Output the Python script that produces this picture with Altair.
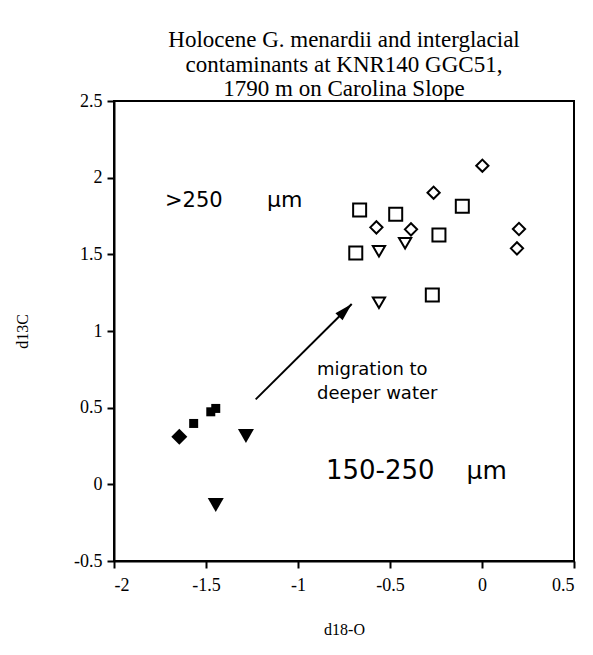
import altair as alt
import pandas as pd

# ---- data ----
open_square_x = [-0.665, -0.469, -0.107, -0.686, -0.234, -0.270]
open_square_y = [1.789, 1.761, 1.813, 1.508, 1.626, 1.235]
open_diamond_x = [0.002, -0.263, -0.574, -0.386, 0.201, 0.190]
open_diamond_y = [2.078, 1.902, 1.676, 1.663, 1.665, 1.539]
open_triangle_x = [-0.560, -0.418, -0.560]
open_triangle_y = [1.520, 1.572, 1.184]
filled_diamond_x = [-1.645]
filled_diamond_y = [0.310]
filled_square_x = [-1.567, -1.474, -1.447]
filled_square_y = [0.397, 0.473, 0.495]
filled_triangle_x = [-1.283, -1.447]
filled_triangle_y = [0.315, -0.135]

arrow_start = [-1.230, 0.554]
arrow_tip = [-0.708, 1.176]

label_texts = [">250", "\u00b5m", "migration to", "deeper water", "150-250", "\u00b5m"]
label_x = [-1.723, -1.168, -0.897, -0.897, -0.848, -0.084]
label_y = [1.810, 1.810, 0.714, 0.555, 0.036, 0.036]
label_size = [21, 22, 18, 18, 26, 25]

title_lines = ["Holocene G. menardii and interglacial",
               "contaminants at KNR140 GGC51,",
               "1790 m on Carolina Slope"]
x_ticks = [-2, -1.5, -1, -0.5, 0, 0.5]
y_ticks = [-0.5, 0, 0.5, 1, 1.5, 2, 2.5]

# marker styles per group: (shape, fill, size, strokeWidth)
styles = [
    ("square", "white", 169, 2),
    ("diamond", "white", 150, 2),
    ("triangle-down", "white", 150, 2),
    ("diamond", "black", 256, 0),
    ("square", "black", 81, 0),
    ("triangle-down", "black", 256, 0),
]
series = [
    (open_square_x, open_square_y),
    (open_diamond_x, open_diamond_y),
    (open_triangle_x, open_triangle_y),
    (filled_diamond_x, filled_diamond_y),
    (filled_square_x, filled_square_y),
    (filled_triangle_x, filled_triangle_y),
]

xs = alt.Scale(domain=[-2, 0.5], nice=False, zero=False)
ys = alt.Scale(domain=[-0.5, 2.5], nice=False, zero=False)
xtitle = "d18-O"
ytitle = "d13C"

x_axis = alt.Axis(values=x_ticks, labelExpr="'' + datum.value", titlePadding=27, labelPadding=8)
y_axis = alt.Axis(values=y_ticks, labelExpr="'' + datum.value", titlePadding=43, labelPadding=5)


def xy(first=False):
    if first:
        return dict(x=alt.X("x:Q", scale=xs, axis=x_axis, title=xtitle),
                    y=alt.Y("y:Q", scale=ys, axis=y_axis, title=ytitle))
    return dict(x=alt.X("x:Q", scale=xs, title=xtitle),
                y=alt.Y("y:Q", scale=ys, title=ytitle))


layers = []
for i, ((sx, sy), (shape, fill, size, sw)) in enumerate(zip(series, styles)):
    df = pd.DataFrame({"x": sx, "y": sy})
    layers.append(
        alt.Chart(df).mark_point(
            shape=shape, fill=fill, stroke="black", strokeWidth=sw,
            size=size, opacity=1, fillOpacity=1, filled=False,
        ).encode(**xy(i == 0))
    )

arrow_df = pd.DataFrame([{"x": arrow_start[0], "y": arrow_start[1],
                          "x2": arrow_tip[0], "y2": arrow_tip[1]}])
tip_df = pd.DataFrame([{"x": arrow_tip[0], "y": arrow_tip[1]}])
labels_df = pd.DataFrame({"x": label_x, "y": label_y, "t": label_texts, "fs": label_size})

arrow = alt.Chart(arrow_df).mark_rule(color="black", strokeWidth=2).encode(
    x2="x2:Q", y2="y2:Q", **xy()
)

head = alt.Chart(tip_df).mark_point(
    shape="M0,0L-0.28,1L0.28,1Z", filled=True, color="black",
    opacity=1, size=1296, angle=45, strokeWidth=0,
).encode(**xy())

texts = alt.Chart(labels_df).mark_text(
    align="left", baseline="alphabetic", font="DejaVu Sans", color="black"
).encode(
    text="t:N",
    size=alt.Size("fs:Q", scale=None),
    **xy(),
)

chart = alt.layer(*layers, arrow, head, texts).properties(
    width=460,
    height=460,
    autosize=alt.AutoSizeParams(type="none"),
    padding={"left": 106, "top": 93, "right": 11, "bottom": 86},
    title=alt.TitleParams(
        text=title_lines, font="Liberation Serif", fontSize=23, fontWeight="normal",
        anchor="middle", frame="group", baseline="bottom", offset=4, dy=36,
        lineHeight=24.5, color="black",
    ),
    background="white",
).configure_view(
    stroke="black", strokeWidth=2,
).configure_axis(
    grid=False,
    domainColor="black", domainWidth=2,
    tickColor="black", tickWidth=2, tickSize=7,
    labelFont="Liberation Serif", labelFontSize=18, labelColor="black",
    titleFont="Liberation Serif", titleFontSize=16, titleFontWeight="normal", titleColor="black",
)

chart.save("out.html", embed_options={"renderer": "svg", "actions": False})
